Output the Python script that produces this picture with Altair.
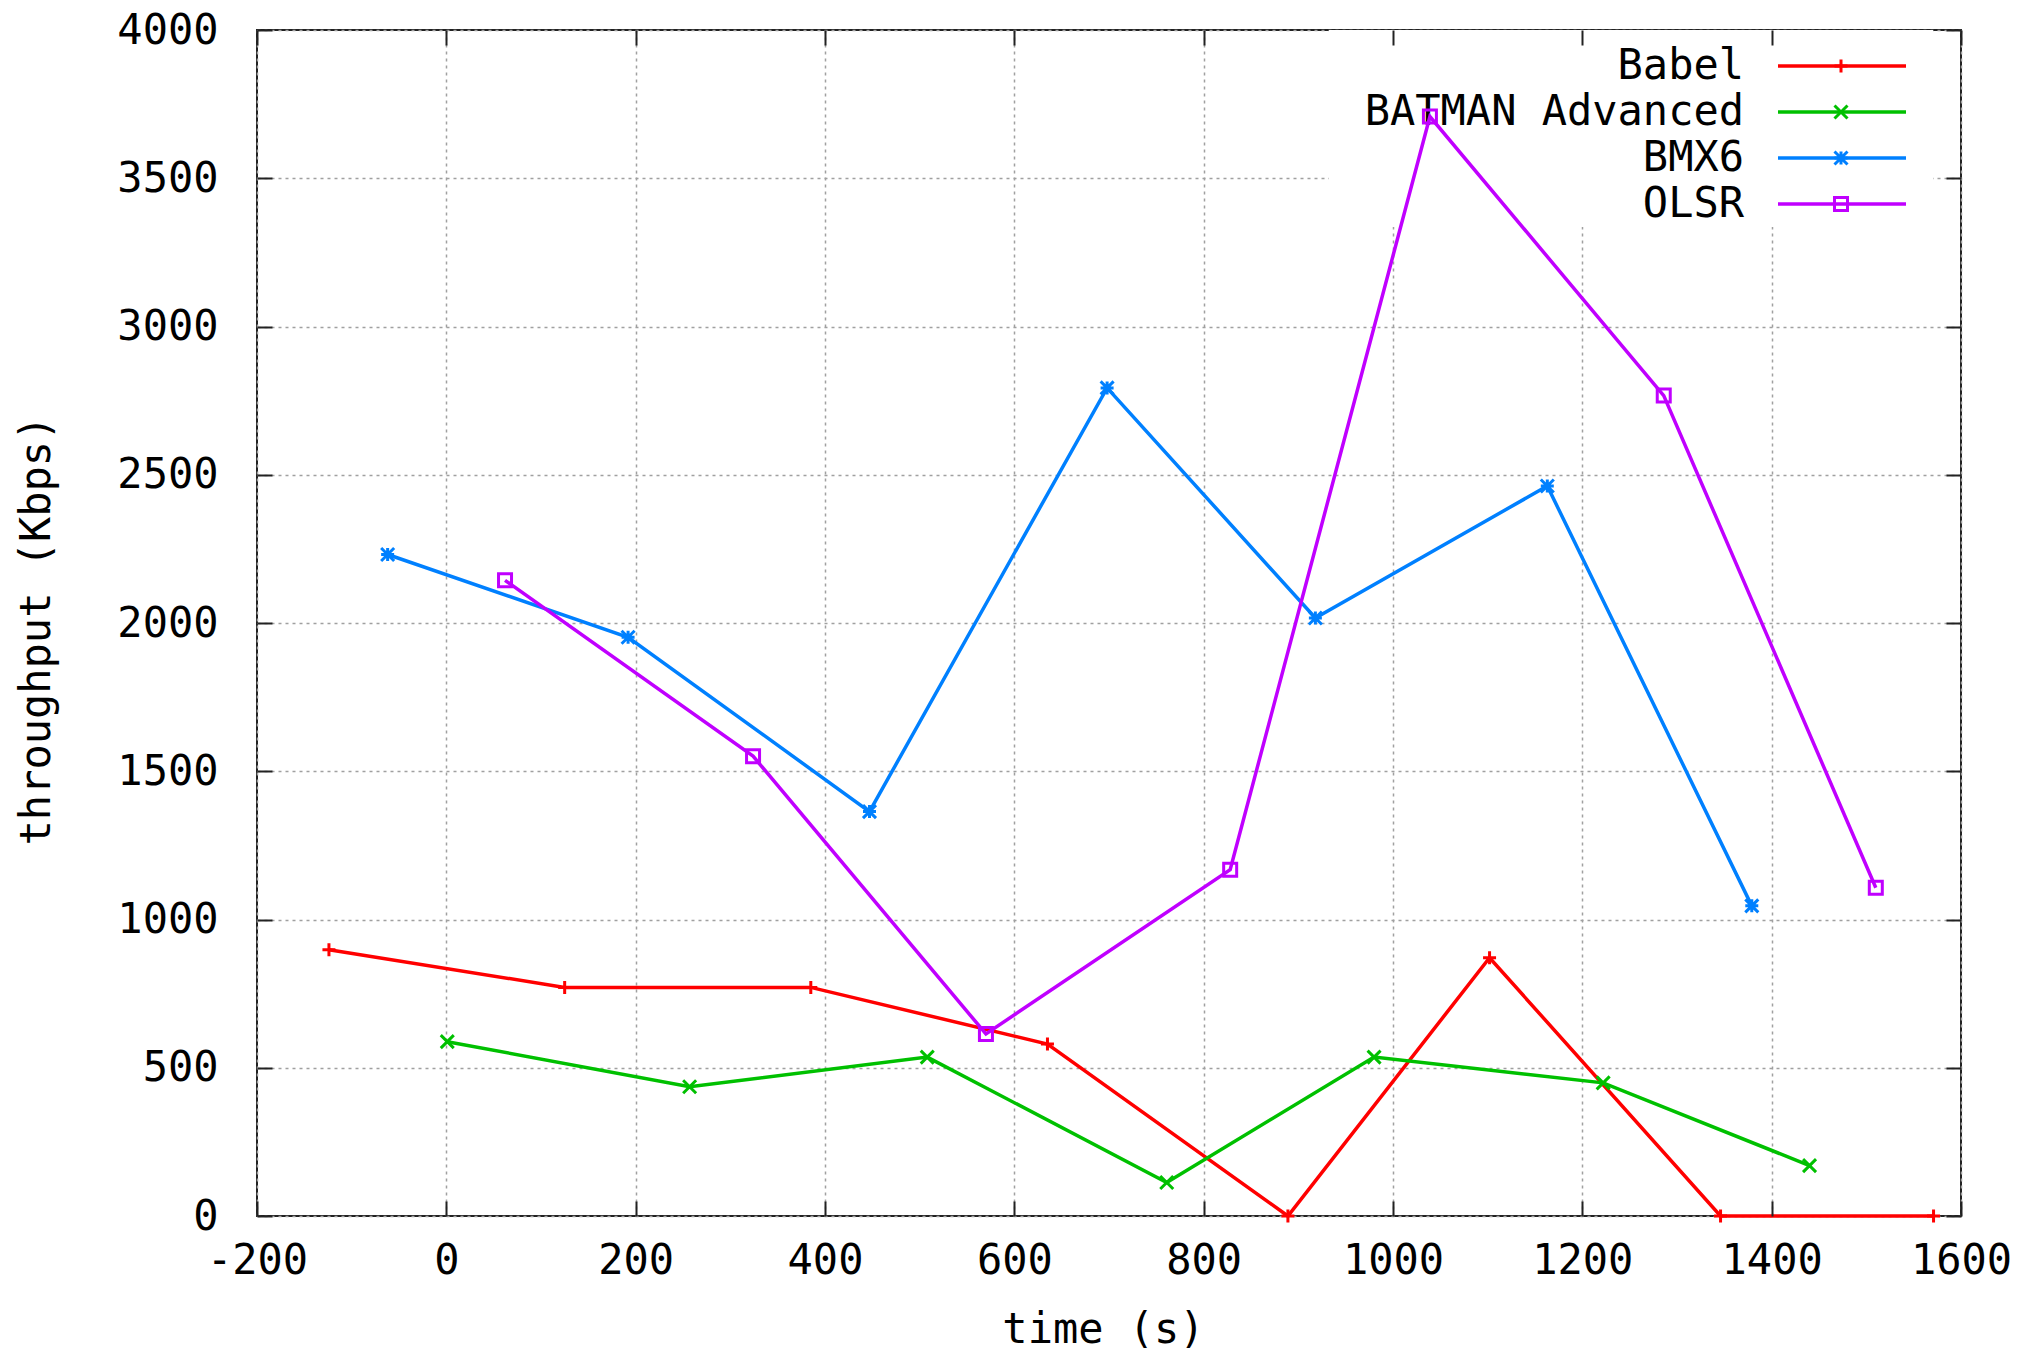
import altair as alt
import pandas as pd

# ---- data ----
series = ["Babel", "BATMAN Advanced", "BMX6", "OLSR"]
colors = ["#ff0000", "#00c000", "#0080ff", "#c000ff"]

babel_t = [-124, 125, 385, 635, 889, 1102, 1346, 1571]
babel_v = [898, 771, 771, 580, 0, 871, 0, 0]

batman_t = [1, 257, 508, 761, 980, 1222, 1440]
batman_v = [588, 436, 536, 113, 536, 449, 170]

bmx6_t = [-62, 192, 447, 698, 918, 1163, 1379]
bmx6_v = [2231, 1952, 1364, 2793, 2017, 2462, 1046]

olsr_t = [62, 324, 570, 828, 1039, 1286, 1510]
olsr_v = [2144, 1551, 614, 1168, 3708, 2767, 1107]

x_ticks = [-200, 0, 200, 400, 600, 800, 1000, 1200, 1400, 1600]
y_ticks = [0, 500, 1000, 1500, 2000, 2500, 3000, 3500, 4000]

# ---- tables ----
rows = []
for name, ts, vs in zip(series, [babel_t, batman_t, bmx6_t, olsr_t],
                        [babel_v, batman_v, bmx6_v, olsr_v]):
    for t, v in zip(ts, vs):
        rows.append({"series": name, "t": t, "v": v})
df = pd.DataFrame(rows)
df_leg = pd.DataFrame({"series": series, "row": [0, 1, 2, 3]})

W, H = 1704, 1186
FONT = "DejaVu Sans Mono"
FS = 42
LW = 3.5
MW = 3
MS = 169

shape_paths = [
    "M-1,0H1M0,-1V1",
    "M-1,-1L1,1M-1,1L1,-1",
    "M-1,0H1M0,-1V1M-1,-1L1,1M-1,1L1,-1",
    "M-1,-1H1V1H-1Z",
]

color_scale = alt.Scale(domain=series, range=colors)
shape_scale = alt.Scale(domain=series, range=shape_paths)
x_scale = alt.Scale(domain=[-200, 1600], nice=False, zero=False)
y_scale = alt.Scale(domain=[0, 4000], nice=False, zero=False)

grid_kw = dict(grid=True, gridColor="#a0a0a0", gridDash=[3, 4], gridWidth=1.5)

main_x = alt.Axis(values=x_ticks, orient="bottom", ticks=False, tickSize=0,
                  domain=False, labelFont=FONT, labelFontSize=FS,
                  labelColor="black", labelPadding=24, labelFlush=False,
                  labelOverlap=False, labelExpr="'' + datum.value",
                  title="time (s)", titleFont=FONT, titleFontSize=FS,
                  titleFontWeight="normal", titleColor="black",
                  titleX=846, titleY=113, titleBaseline="middle",
                  titleAlign="center", zindex=0, **grid_kw)
main_y = alt.Axis(values=y_ticks, orient="left", ticks=False, tickSize=0,
                  domain=False, labelFont=FONT, labelFontSize=FS,
                  labelColor="black", labelPadding=39, labelFlush=False,
                  labelOverlap=False, labelExpr="'' + datum.value",
                  title="throughput (Kbps)", titleFont=FONT, titleFontSize=FS,
                  titleFontWeight="normal", titleColor="black",
                  titleX=-221, titleY=600, titleAngle=270,
                  titleBaseline="middle", titleAlign="center", zindex=0,
                  **grid_kw)

tick_kw = dict(ticks=True, tickSize=15, tickWidth=2, tickColor="#222222",
               labels=False, domain=False, grid=False, title=None, offset=-15,
               zindex=1)
tick_xb = alt.Axis(values=x_ticks, orient="bottom", **tick_kw)
tick_xt = alt.Axis(values=x_ticks, orient="top", **tick_kw)
tick_yl = alt.Axis(values=y_ticks, orient="left", **tick_kw)
tick_yr = alt.Axis(values=y_ticks, orient="right", **tick_kw)

# ---- legend (drawn manually: label left of sample, like gnuplot) ----
leg_y = alt.Y("ly:Q", scale=None, axis=None)

leg_box = alt.Chart(pd.DataFrame({"a": [0]})).mark_rect(color="white").encode(
    x=alt.value(1072), x2=alt.value(1676), y=alt.value(0), y2=alt.value(197)
)
leg_base = alt.Chart(df_leg).transform_calculate(ly="36 + datum.row * 46")
leg_text = leg_base.mark_text(align="right", baseline="middle", font=FONT,
                              fontSize=FS, color="black").encode(
    x=alt.value(1487), y=leg_y, text="series:N"
)
leg_rule = leg_base.mark_rule(strokeWidth=LW).encode(
    x=alt.value(1521), x2=alt.value(1649), y=leg_y,
    color=alt.Color("series:N", scale=color_scale, legend=None)
)
leg_pts = leg_base.mark_point(filled=False, strokeWidth=MW, size=MS,
                              opacity=1).encode(
    x=alt.value(1584), y=leg_y,
    color=alt.Color("series:N", scale=color_scale, legend=None),
    shape=alt.Shape("series:N", scale=shape_scale, legend=None)
)

# ---- data layers ----
lines = alt.Chart(df).mark_line(strokeWidth=LW).encode(
    x=alt.X("t:Q", scale=x_scale, axis=main_x),
    y=alt.Y("v:Q", scale=y_scale, axis=main_y),
    color=alt.Color("series:N", scale=color_scale, legend=None),
)
points = alt.Chart(df).mark_point(filled=False, strokeWidth=MW, size=MS,
                                  opacity=1).encode(
    x=alt.X("t:Q", scale=x_scale, axis=None),
    y=alt.Y("v:Q", scale=y_scale, axis=None),
    color=alt.Color("series:N", scale=color_scale, legend=None),
    shape=alt.Shape("series:N", scale=shape_scale, legend=None),
)

ticks1 = alt.Chart(df).mark_point(opacity=0).encode(
    x=alt.X("t:Q", scale=x_scale, axis=tick_xb),
    y=alt.Y("v:Q", scale=y_scale, axis=tick_yl),
)
ticks2 = alt.Chart(df).mark_point(opacity=0).encode(
    x=alt.X("t:Q", scale=x_scale, axis=tick_xt),
    y=alt.Y("v:Q", scale=y_scale, axis=tick_yr),
)

chart = alt.layer(
    leg_box, leg_text, leg_rule, leg_pts, lines, points, ticks1, ticks2
).resolve_axis(
    x="independent", y="independent"
).properties(
    width=W, height=H,
    autosize=alt.AutoSizeParams(type="none"),
    padding={"left": 257, "top": 30, "right": 65, "bottom": 137},
    background="white",
).configure_view(
    stroke="#222222", strokeWidth=2
)

chart.save("out.html", embed_options={"renderer": "svg", "actions": False})
